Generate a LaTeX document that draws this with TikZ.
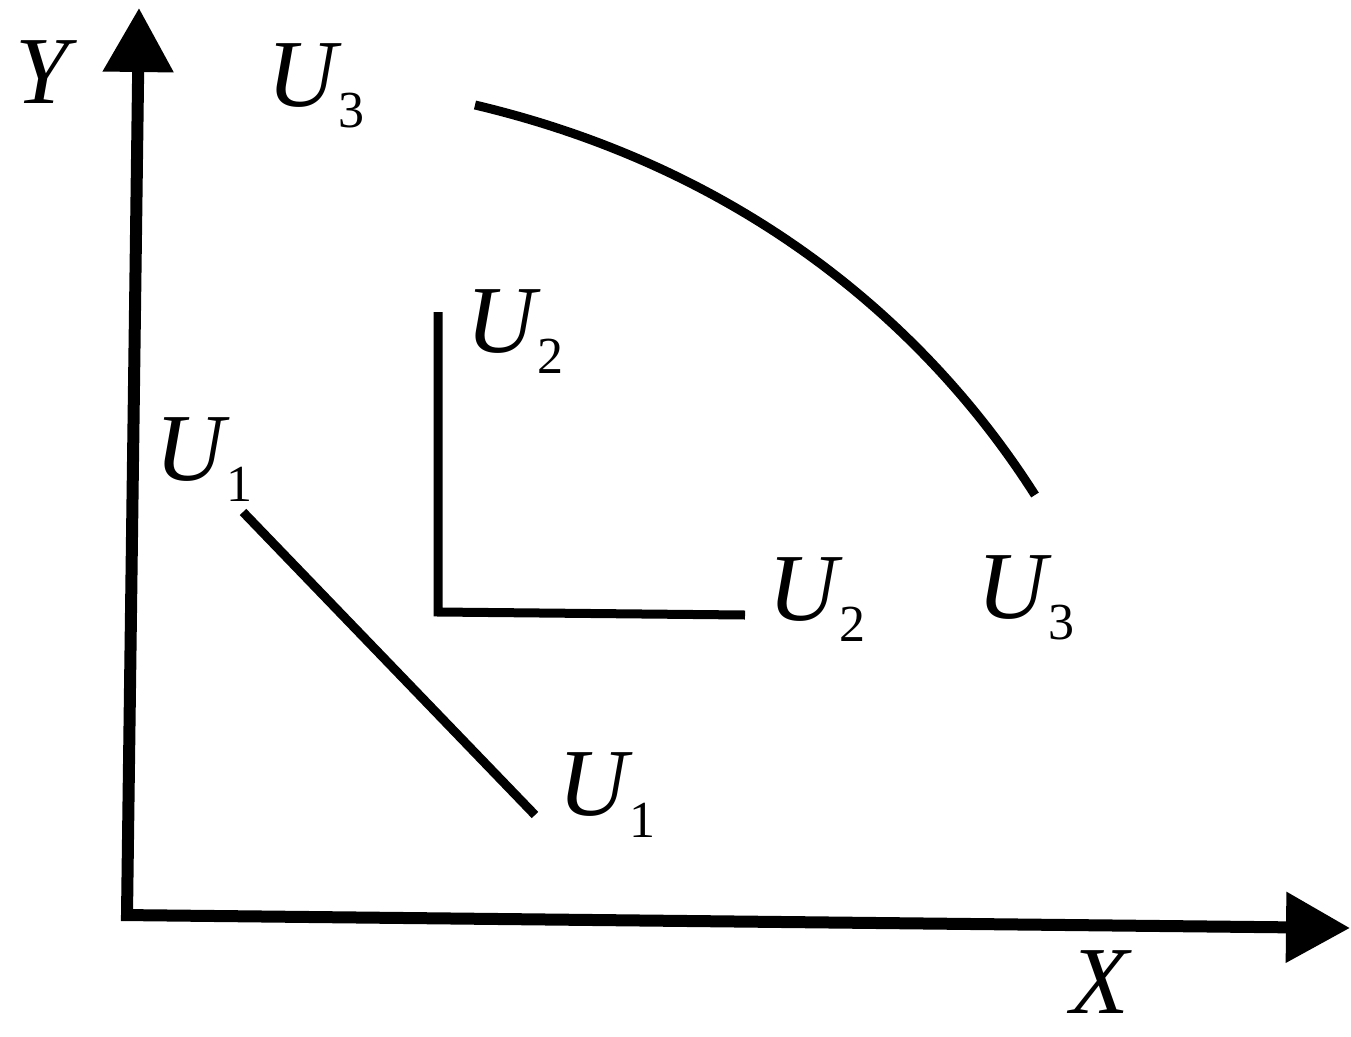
\documentclass[tikz,border=0pt]{standalone}
\usepackage{fontspec}
\setmainfont{Liberation Serif}
\usetikzlibrary{arrows.meta}
\newcommand{\ulab}[1]{{\itshape U}\kern0.02em\raisebox{-0.22em}{\fontsize{52}{52}\selectfont #1}}
\begin{document}
\begin{tikzpicture}[x=1pt,y=-1pt,
  lab/.style={font=\fontsize{96}{96}\selectfont, inner sep=0pt, anchor=center},
  axis/.style={line width=12pt, -{Triangle[length=64pt,width=68pt]}},
  curveline/.style={line width=9pt}]
\useasboundingbox (0,0) rectangle (1351,1036);
% axes
\coordinate (O) at (127,915);
\coordinate (ytip) at (139,8);
\coordinate (xtip) at (1350,928);
\draw[axis] (O) -- (ytip);
\draw[axis] ([xshift=-6pt]O) -- (xtip);
\node[lab] (Y) at (42,72) {\itshape Y};
\node[lab] (X) at (1100,982) {\itshape X};
% U3 curve
\coordinate (u3a) at (475,105);
\coordinate (u3b) at (1035,495);
\draw[curveline] (u3a) .. controls (750,170) and (930,330) .. (u3b);
\node[lab] (U3t) at (316,86) {\ulab{3}};
\node[lab] (U3b) at (1026,598) {\ulab{3}};
% U2 L-shape
\coordinate (u2a) at (438,312);
\coordinate (u2c) at (438,612);
\coordinate (u2b) at (745,615);
\draw[curveline] (u2a) -- (u2c) -- (u2b);
\node[lab] (U2t) at (515,332) {\ulab{2}};
\node[lab] (U2b) at (817,600) {\ulab{2}};
% U1 line
\coordinate (u1a) at (243,512);
\coordinate (u1b) at (535,815);
\draw[curveline] (u1a) -- (u1b);
\node[lab] (U1t) at (204,460) {\ulab{1}};
\node[lab] (U1b) at (607,795) {\ulab{1}};
\end{tikzpicture}
\end{document}
